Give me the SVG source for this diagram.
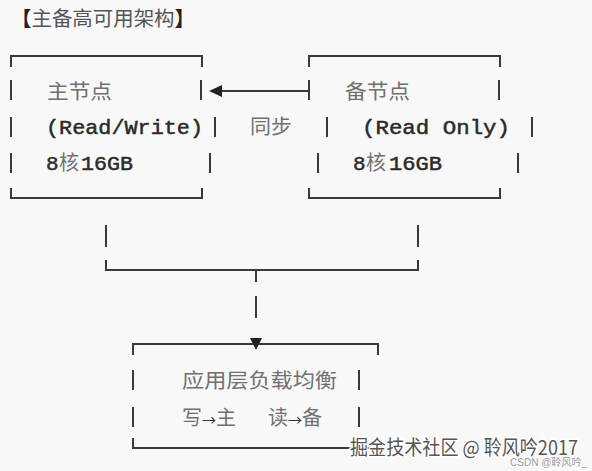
<svg xmlns="http://www.w3.org/2000/svg" width="592" height="471" viewBox="0 0 592 471">
<style>
.ln{stroke:#3a3a3a;stroke-width:2;fill:none}
.cj{font-family:"Noto Sans CJK SC","Noto Sans",sans-serif;font-size:20px;fill:#707070}
.mo{font-family:"Liberation Mono","DejaVu Sans Mono",monospace;font-size:21px;fill:#2a2a2a;stroke:#2a2a2a;stroke-width:0.5}
.ti{font-family:"Noto Sans CJK SC",sans-serif;font-size:20px;fill:#555}
.wm{font-family:"Noto Sans CJK SC","Noto Sans",sans-serif;font-size:20px;fill:#555;stroke:#fff;stroke-width:3;paint-order:stroke}
.wm2{font-family:"Liberation Sans","Noto Sans CJK SC",sans-serif;font-size:10px;fill:#999;stroke:#fff;stroke-width:2;paint-order:stroke}
</style>
<rect width="592" height="471" fill="#f8f8f8"/>
<g id="title">
<text x="11" y="26" class="ti" textLength="184" lengthAdjust="spacingAndGlyphs"><tspan fill="#222" font-weight="bold">【</tspan>主备高可用架构<tspan fill="#222" font-weight="bold">】</tspan></text>
</g>
<g id="primary">
<path class="ln" d="M11,67 V56 H202 V67 M11,188 V198 H202 V188 M11,80 V100 M201,80 V100 M11,117 V137 M215,117 V137 M11,153 V173 M210,153 V173"/>
<text x="47" y="99" class="cj" textLength="65" lengthAdjust="spacingAndGlyphs">主节点</text>
<text x="46" y="134" class="mo" textLength="157" lengthAdjust="spacingAndGlyphs">(Read/Write)</text>
<text x="46" y="170" class="mo">8</text>
<text x="59" y="170" class="cj">核</text>
<text x="81" y="170" class="mo" textLength="52" lengthAdjust="spacingAndGlyphs">16GB</text>
</g>
<g id="standby">
<path class="ln" d="M309,67 V56 H500 V67 M309,188 V198 H500 V188 M309,80 V100 M499,80 V100 M327,117 V137 M532,117 V137 M318,153 V173 M518,153 V173"/>
<text x="345" y="99" class="cj" textLength="65" lengthAdjust="spacingAndGlyphs">备节点</text>
<text x="362" y="134" class="mo" textLength="148" lengthAdjust="spacingAndGlyphs">(Read Only)</text>
<text x="353" y="170" class="mo">8</text>
<text x="366" y="170" class="cj">核</text>
<text x="389" y="170" class="mo" textLength="53" lengthAdjust="spacingAndGlyphs">16GB</text>
</g>
<g id="lb">
<path class="ln" d="M133,355 V344 H378 V355 M133,438 V448 H378 V438 M133,370 V390 M359,370 V390 M133,407 V427 M359,407 V427"/>
<text x="182" y="388" class="cj" textLength="155" lengthAdjust="spacingAndGlyphs">应用层负载均衡</text>
<text x="182" y="425" class="cj">写<tspan font-size="14" fill="#333">→</tspan>主</text>
<text x="268" y="425" class="cj">读<tspan font-size="14" fill="#333">→</tspan>备</text>
</g>
<g id="connectors">
<path class="ln" d="M309,91 H216"/>
<polygon points="209,91 222,85 222,97" fill="#222"/>
<text x="250" y="134" class="cj" textLength="42" lengthAdjust="spacingAndGlyphs">同步</text>
<path class="ln" d="M106,225 V247 M418,225 V247 M106,260 V270 H418 V260 M256,270 V282 M256,296 V318"/>
<polygon points="250,338 262,338 256,350" fill="#222"/>
</g>
<text x="350" y="455" class="wm" textLength="228" lengthAdjust="spacingAndGlyphs">掘金技术社区 @ 聆风吟2017</text>
<text x="510" y="466" class="wm2" textLength="77" lengthAdjust="spacingAndGlyphs">CSDN @聆风吟_</text>
</svg>
